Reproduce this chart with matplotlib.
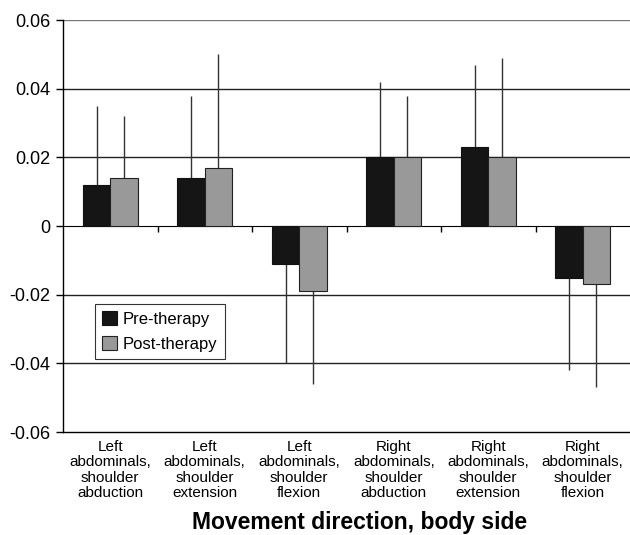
import numpy as np
import matplotlib
matplotlib.use('Agg')
import matplotlib.pyplot as plt

plt.rcParams['font.family'] = ['Liberation Sans', 'DejaVu Sans']

# data
categories = ['Left\nabdominals,\nshoulder\nabduction',
              'Left\nabdominals,\nshoulder\nextension',
              'Left\nabdominals,\nshoulder\nflexion',
              'Right\nabdominals,\nshoulder\nabduction',
              'Right\nabdominals,\nshoulder\nextension',
              'Right\nabdominals,\nshoulder\nflexion']
pre = np.array([0.012, 0.014, -0.011, 0.020, 0.023, -0.015])
post = np.array([0.014, 0.017, -0.019, 0.020, 0.020, -0.017])
pre_err = np.array([0.023, 0.024, 0.029, 0.022, 0.024, 0.027])
post_err = np.array([0.018, 0.033, 0.027, 0.018, 0.029, 0.030])
yticks = [-0.06, -0.04, -0.02, 0, 0.02, 0.04, 0.06]
ytick_labels = ['-0.06', '-0.04', '-0.02', '0', '0.02', '0.04', '0.06']

fig = plt.figure(figsize=(6.3, 5.35), dpi=100)
ax = fig.add_axes([0.1, 0.1925, 0.9, 0.77])

x = np.arange(len(categories))
w = 0.29

ax.bar(x - w/2, pre, w, color='#151515', edgecolor='#111111', linewidth=0.8,
       label='Pre-therapy', zorder=3)
ax.bar(x + w/2, post, w, color='#999999', edgecolor='#222222', linewidth=0.8,
       label='Post-therapy', zorder=3)

# one-sided error bars (away from zero)
def one_sided(vals, err):
    lo = np.where(vals < 0, err, 0)
    hi = np.where(vals >= 0, err, 0)
    return [lo, hi]

ax.errorbar(x - w/2, pre, yerr=one_sided(pre, pre_err), fmt='none',
            ecolor='#333333', elinewidth=1, capsize=0, zorder=2)
ax.errorbar(x + w/2, post, yerr=one_sided(post, post_err), fmt='none',
            ecolor='#333333', elinewidth=1, capsize=0, zorder=2)

ax.set_xlim(-0.5, len(categories) - 0.5)
ax.set_ylim(-0.06, 0.06)
ax.set_yticks(yticks)
ax.set_yticklabels(ytick_labels, fontsize=13)
ax.tick_params(axis='y', length=5, width=1, direction='out', pad=4)

ax.set_xticks(x)
ax.set_xticklabels(categories, fontsize=11, linespacing=1.1)
ax.tick_params(axis='x', length=0, pad=6)

for yv in yticks:
    if yv not in (0, -0.06):
        ax.axhline(yv, color='#222222' if yv != 0.06 else '#777777',
                   linewidth=1, zorder=1)

ax.spines['right'].set_visible(False)
ax.spines['top'].set_visible(False)
ax.spines['left'].set_linewidth(1)
ax.spines['bottom'].set_linewidth(1)

# zero line with category divider ticks (pointing down)
zero = ax.secondary_xaxis(0.5)
bounds = np.arange(0.5, len(categories) - 0.5, 1)
zero.set_xticks(bounds, labels=[''] * len(bounds))
zero.tick_params(length=4, width=1, direction='in')
zero.spines['bottom'].set_linewidth(1)

leg = ax.legend(loc='upper left', bbox_to_anchor=(0.056, 0.311), fontsize=12,
                frameon=True, fancybox=False, edgecolor='black',
                handlelength=0.9, handleheight=0.9, handletextpad=0.35,
                borderpad=0.45, labelspacing=0.55, borderaxespad=0)
leg.get_frame().set_linewidth(0.8)

fig.text(0.57, 0.012, 'Movement direction, body side', fontsize=16.5,
         fontweight='bold', ha='center', va='baseline')

fig.savefig('out.png', dpi=100)
